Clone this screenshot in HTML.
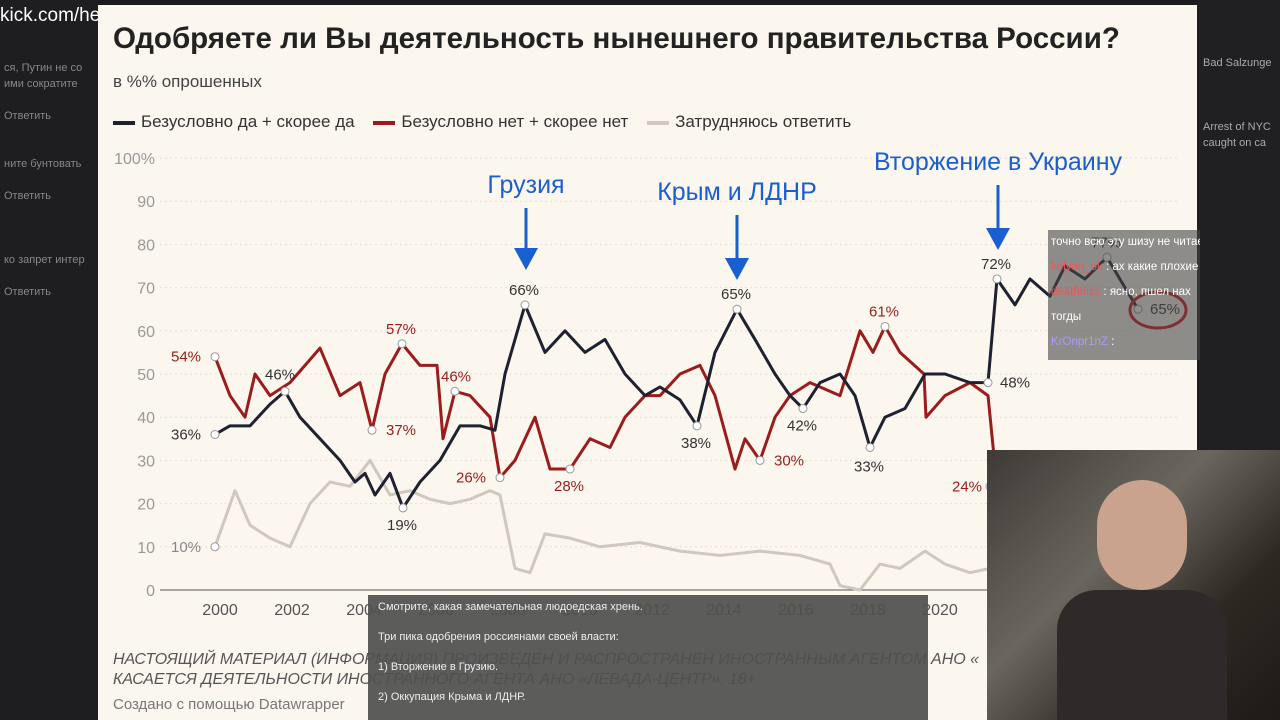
<!DOCTYPE html>
<html><head><meta charset="utf-8">
<style>
body{margin:0;width:1280px;height:720px;overflow:hidden;background:#1b1b1d;font-family:"Liberation Sans","Noto Sans CJK SC",sans-serif;position:relative}
.abs{position:absolute}
#card{left:98px;top:5px;width:1099px;height:715px;background:#fbf6ee}
</style></head><body>
<div class="abs" style="left:0;top:0;width:98px;height:720px;background:#1e1e20;color:#888;font-size:11px;line-height:16px">
<div style="padding:60px 4px">ся, Путин не со<br>ими сократите<br><br>Ответить<br><br><br>ните бунтовать<br><br>Ответить<br><br><br><br>ко запрет интер<br><br>Ответить</div></div>
<div class="abs" style="left:0;top:5px;color:#fff;font-size:19px">kick.com/hesdeyman</div>
<div class="abs" style="left:1197px;top:0;width:83px;height:720px;background:#202022;color:#aaa;font-size:11px"><div style="padding:55px 6px;line-height:16px">Bad Salzunge<br><br><br><br>Arrest of NYC<br>caught on ca</div></div>
<div id="card" class="abs">
<div class="abs" style="left:15px;top:17px;font-size:29.5px;font-weight:bold;color:#222;white-space:nowrap">Одобряете ли Вы деятельность нынешнего правительства России?</div>
<div class="abs" style="left:15px;top:67px;font-size:17px;color:#444">в %% опрошенных</div>
<div class="abs" style="left:15px;top:107px;font-size:17px;color:#333;white-space:nowrap">
<span><span style="display:inline-block;width:22px;height:4px;background:#1e2130;vertical-align:middle;margin-right:6px"></span>Безусловно да + скорее да</span>
<span style="margin-left:14px"><span style="display:inline-block;width:22px;height:4px;background:#9b1c1c;vertical-align:middle;margin-right:6px"></span>Безусловно нет + скорее нет</span>
<span style="margin-left:14px"><span style="display:inline-block;width:22px;height:4px;background:#cfc8bc;vertical-align:middle;margin-right:6px"></span>Затрудняюсь ответить</span></div>
<div class="abs" style="left:15px;top:645px;font-size:16px;font-style:italic;color:#555;line-height:20px;white-space:nowrap">НАСТОЯЩИЙ МАТЕРИАЛ (ИНФОРМАЦИЯ) ПРОИЗВЕДЕН И РАСПРОСТРАНЕН ИНОСТРАННЫМ АГЕНТОМ АНО «<br>КАСАЕТСЯ ДЕЯТЕЛЬНОСТИ ИНОСТРАННОГО АГЕНТА АНО «ЛЕВАДА-ЦЕНТР». 18+</div>
<div class="abs" style="left:15px;top:691px;font-size:15px;color:#777">Создано с помощью Datawrapper</div>
</div>
<svg class="abs" style="left:0;top:0" width="1280" height="720" id="chart"></svg>
<div class="abs" style="left:1048px;top:230px;width:149px;height:130px;background:rgba(70,70,70,0.6);color:#fff;font-size:11.5px;line-height:25px;padding-left:3px;white-space:nowrap;overflow:hidden">точно всю эту шизу не читает<br><span style="color:#e55">kolyan_ok</span> : ах какие плохие<br><span style="color:#e55">deathhiss</span> : ясно, пшел нах<br>тогды<br><span style="color:#a9f">KrOnpr1nZ</span> :</div>
<div class="abs" style="left:987px;top:450px;width:293px;height:270px;background:linear-gradient(135deg,#3e3b37,#6a665f 40%,#2e2823 70%,#1e1a17)">
<div style="position:absolute;left:110px;top:30px;width:90px;height:110px;border-radius:45px;background:#c9a38e"></div>
<div style="position:absolute;left:70px;top:140px;width:170px;height:130px;border-radius:40px 40px 0 0;background:#2f2a2a"></div></div>
<div class="abs" style="left:368px;top:595px;width:560px;height:125px;background:rgba(80,80,80,0.93);color:#eee;font-size:11px;line-height:15px;padding:5px 10px;box-sizing:border-box">Смотрите, какая замечательная людоедская хрень.<br><br>Три пика одобрения россиянами своей власти:<br><br>1) Вторжение в Грузию.<br><br>2) Оккупация Крыма и ЛДНР.</div>
<script>
const ticksY=[0,10,20,30,40,50,60,70,80,90,100];
const ticksX=[2000,2002,2004,2006,2008,2010,2012,2014,2016,2018,2020,2022];
const approveX=[215,230,250,270,285,300,320,340,355,365,375,390,403,420,440,460,480,495,505,525,545,565,585,605,625,645,660,680,697,715,737,755,775,790,803,820,840,855,870,885,905,925,945,970,988,997,1015,1030,1050,1065,1085,1107,1125,1138];
const approveV=[36,38,38,43,46,40,35,30,25,27,22,27,19,25,30,38,38,37,50,66,55,60,55,58,50,45,47,44,38,55,65,58,50,45,42,48,50,45,33,40,42,50,50,48,48,72,66,72,68,75,72,77,70,65];
const disX=[215,230,245,255,270,290,305,320,340,360,372,385,402,420,437,443,455,470,490,500,515,535,550,570,590,610,625,645,660,680,700,715,735,745,760,775,790,810,840,860,873,885,900,924,926,945,970,988,997];
const disV=[54,45,40,50,45,48,52,56,45,48,37,50,57,52,52,35,46,45,40,26,30,40,28,28,35,33,40,45,45,50,52,45,28,35,30,40,45,48,45,60,55,61,55,50,40,45,48,45,24];
const unX=[215,235,250,270,290,310,330,350,370,390,410,430,450,470,490,500,515,530,545,570,600,640,680,720,760,800,830,840,860,880,900,925,945,970,990];
const unV=[10,23,15,12,10,20,25,24,30,22,23,21,20,21,23,22,5,4,13,12,10,11,9,8,9,8,6,1,0,6,5,9,6,4,5];
const labels=[[215,36,'36%',-44,5,'#333'],[285,46,'46%',-20,-12,'#333'],[403,19,'19%',-16,22,'#333'],[525,66,'66%',-16,-10,'#333'],[697,38,'38%',-16,22,'#333'],[737,65,'65%',-16,-10,'#333'],[803,42,'42%',-16,22,'#333'],[870,33,'33%',-16,24,'#333'],[997,72,'72%',-16,-10,'#333'],[988,48,'48%',12,5,'#333'],[1138,65,'65%',12,5,'#333'],[1107,77,'77%',-16,-10,'#333'],
[215,54,'54%',-44,5,'#9b1c1c'],[402,57,'57%',-16,-10,'#9b1c1c'],[372,37,'37%',14,5,'#9b1c1c'],[455,46,'46%',-14,-10,'#9b1c1c'],[500,26,'26%',-44,5,'#9b1c1c'],[570,28,'28%',-16,22,'#9b1c1c'],[760,30,'30%',14,5,'#9b1c1c'],[885,61,'61%',-16,-10,'#9b1c1c'],[990,24,'24%',-38,5,'#9b1c1c'],
[215,10,'10%',-44,5,'#888']];
const NS='http://www.w3.org/2000/svg';
const svg=document.getElementById('chart');
const y=v=>590-v*4.32;
const xy=yr=>220+(yr-2000)*36;
function mk(t,a){const e=document.createElementNS(NS,t);for(const k in a)e.setAttribute(k,a[k]);svg.appendChild(e);return e;}
ticksY.forEach(t=>{
 const l=mk('line',{x1:160,x2:1180,y1:y(t),y2:y(t),stroke:t==0?'#555':'#e6e0d6','stroke-dasharray':t==0?'':'2,3'});
 
 
 const tx=mk('text',{x:155,y:y(t)+6,'text-anchor':'end','font-size':16,fill:'#999'});
 tx.textContent=t==100?'100%':t;
 
 
});
ticksX.forEach(t=>{
 const tx=mk('text',{x:xy(t),y:615,'text-anchor':'middle','font-size':16,fill:'#555'});
 tx.textContent=t;
 
 
});
function series(X,V,c,n){const p=mk('polyline',{points:X.map((x,i)=>x+','+y(V[i])).join(' '),fill:'none',stroke:c,'stroke-width':3,'stroke-linejoin':'round'});
 
 }
series(unX,unV,'#cfc8bc','line-unsure');
series(disX,disV,'#9b1c1c','line-disapprove');
series(approveX,approveV,'#1e2130','line-approve');
labels.forEach(l=>{
 const c=mk('circle',{cx:l[0],cy:y(l[1]),r:4,fill:'#fff',stroke:'#999','stroke-width':1});
 
 
 const t=mk('text',{x:l[0]+l[3],y:y(l[1])+l[4],'font-size':15,fill:l[5]});
 t.textContent=l[2];
 
 
});
[[526,'Грузия',193,270],[737,'Крым и ЛДНР',200,280],[998,'Вторжение в Украину',170,250]].forEach(a=>{
 const t=mk('text',{x:a[0],y:a[2],'text-anchor':'middle','font-size':25,fill:'#1a5fcf'});
 t.textContent=a[1];
 
 
 const l=mk('line',{x1:a[0],x2:a[0],y1:a[2]+15,y2:a[3]-14,stroke:'#1a5fcf','stroke-width':3});
 
 
 const p=mk('polygon',{points:`${a[0]-12},${a[3]-22} ${a[0]+12},${a[3]-22} ${a[0]},${a[3]}`,fill:'#1a5fcf'});
 
 
});
const e=mk('ellipse',{cx:1158,cy:310,rx:28,ry:18,fill:'none',stroke:'#d01010','stroke-width':3});


</script>
</body></html>
